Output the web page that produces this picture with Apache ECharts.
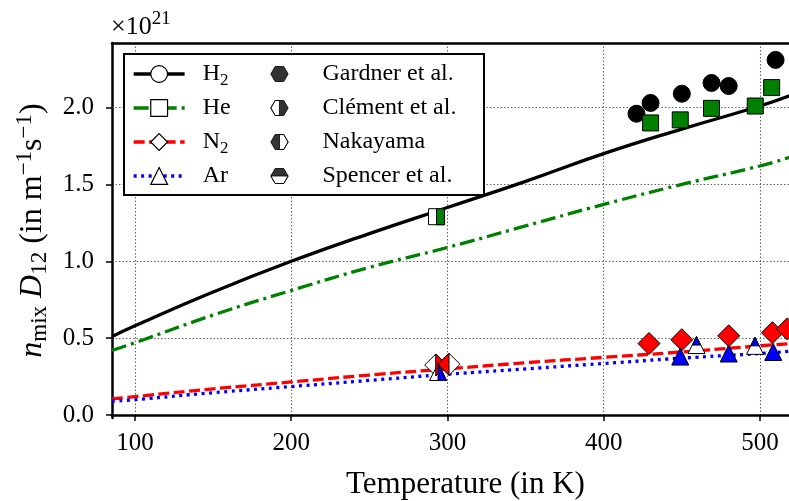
<!DOCTYPE html>
<html><head><meta charset="utf-8">
<script src="https://cdn.jsdelivr.net/npm/echarts@6/dist/echarts.min.js"></script>
<style>html,body{margin:0;padding:0;background:#fff}#c{width:789px;height:501px}</style>
</head><body><div id="c"></div>
<script>
// ---- data (values in units of 1e21 m^-1 s^-1) ----
const curveT = [85.3, 100, 150, 200, 250, 300, 350, 400, 450, 500, 520];
const curveH2 = [0.51, 0.58, 0.80, 1.00, 1.18, 1.35, 1.52, 1.70, 1.86, 2.01, 2.08];
const curveHe = [0.42, 0.47, 0.65, 0.81, 0.96, 1.09, 1.23, 1.37, 1.50, 1.62, 1.68];
const curveN2 = [0.105, 0.12, 0.17, 0.215, 0.26, 0.30, 0.34, 0.375, 0.41, 0.45, 0.465];
const curveAr = [0.09, 0.10, 0.145, 0.185, 0.225, 0.265, 0.30, 0.335, 0.37, 0.40, 0.415];

const gardnerH2T = [421, 430, 450, 469, 480, 510];
const gardnerH2V = [1.96, 2.03, 2.09, 2.16, 2.14, 2.31];
const gardnerHeT = [430, 449, 469, 497, 507.5];
const gardnerHeV = [1.90, 1.92, 1.995, 2.01, 2.13];
const gardnerN2T = [429, 450, 480, 508, 517.5];
const gardnerN2V = [0.465, 0.49, 0.515, 0.535, 0.56];
const gardnerArT = [449, 480, 508.5];
const gardnerArV = [0.38, 0.40, 0.41];

const clementHeT = [293];
const clementHeV = [1.29];
const clementN2T = [292.5];
const clementN2V = [0.325];
const clementArT = [294];
const clementArV = [0.28];

const nakayamaN2T = [301];
const nakayamaN2V = [0.33];

const spencerArT = [459.4, 496.8];
const spencerArV = [0.455, 0.45];

const gasNames = ['H2', 'He', 'N2', 'Ar'];
const sourceNames = ['Gardner et al.', 'Clément et al.', 'Nakayama', 'Spencer et al.'];
const xTicks = [100, 200, 300, 400, 500];
const yTicks = [0, 0.5, 1.0, 1.5, 2.0];

// ---- styles ----
const FONT = 'Liberation Serif';
const gasColor = {H2: '#000000', He: '#008000', N2: '#ff0000', Ar: '#0000ff'};
const gasSymbol = {H2: 'circle', He: 'rect', N2: 'diamond', Ar: 'triangle'};
const gasSize = {H2: [17, 17], He: [16, 16], N2: [22, 22], Ar: [17, 17]};
const gasDash = {H2: 'solid', He: [15, 5, 3, 5], N2: [11, 4.5], Ar: [3, 4.5]};
const A = 'M0 0M100 100';
const halfPath = {
  rect:     {R: A + 'M50 0L100 0L100 100L50 100Z', L: A + 'M0 0L50 0L50 100L0 100Z', T: A + 'M0 0L100 0L100 50L0 50Z'},
  diamond:  {R: A + 'M50 0L100 50L50 100Z', L: A + 'M50 0L0 50L50 100Z', T: A + 'M50 0L100 50L0 50Z'},
  triangle: {R: A + 'M50 0L100 100L50 100Z', L: A + 'M50 0L50 100L0 100Z', T: A + 'M50 0L75 50L25 50Z'},
  circle:   {R: A + 'M50 0A50 50 0 0 1 50 100Z', L: A + 'M50 0A50 50 0 0 0 50 100Z', T: A + 'M0 50A50 50 0 0 1 100 50Z'}
};
const HEX = 'M0 43.3L25 0L75 0L100 43.3L75 86.6L25 86.6Z';
const hexIcon = {
  'Gardner et al.': 'path://' + HEX,
  'Clément et al.': 'path://' + HEX + 'M50 0L25 0L0 43.3L25 86.6L50 86.6Z',
  'Nakayama': 'path://' + HEX + 'M50 0L50 86.6L75 86.6L100 43.3L75 0Z',
  'Spencer et al.': 'path://' + HEX + 'M0 43.3L25 86.6L75 86.6L100 43.3Z'
};

const zip = (a, b) => a.map((v, i) => [v, b[i]]);
const curves = {H2: curveH2, He: curveHe, N2: curveN2, Ar: curveAr};

const series = [];
gasNames.forEach(g => {
  series.push({
    name: g, type: 'line', data: zip(curveT, curves[g]), smooth: true,
    showSymbol: false, symbol: gasSymbol[g], z: 2,
    lineStyle: {color: gasColor[g], width: 3.3, type: gasDash[g]},
    itemStyle: {color: gasColor[g]}
  });
});
function fullMarkers(g, T, V) {
  series.push({type: 'scatter', data: zip(T, V), symbol: gasSymbol[g], symbolSize: gasSize[g], z: 5, clip: false,
    itemStyle: {color: gasColor[g], borderColor: '#000', borderWidth: 1, opacity: 1}});
}
function halfMarkers(g, side, T, V) {
  series.push({type: 'scatter', data: zip(T, V), symbol: gasSymbol[g], symbolSize: gasSize[g], z: 5,
    itemStyle: {color: '#fff', borderColor: '#000', borderWidth: 1, opacity: 1}});
  series.push({type: 'scatter', data: zip(T, V), symbol: 'path://' + halfPath[gasSymbol[g]][side], symbolSize: gasSize[g], z: 6,
    itemStyle: {color: gasColor[g], borderColor: '#000', borderWidth: 1, opacity: 1}});
}
fullMarkers('H2', gardnerH2T, gardnerH2V);
fullMarkers('He', gardnerHeT, gardnerHeV);
fullMarkers('N2', gardnerN2T, gardnerN2V);
fullMarkers('Ar', gardnerArT, gardnerArV);
halfMarkers('He', 'R', clementHeT, clementHeV);
halfMarkers('N2', 'R', clementN2T, clementN2V);
halfMarkers('Ar', 'R', clementArT, clementArV);
halfMarkers('N2', 'L', nakayamaN2T, nakayamaN2V);
halfMarkers('Ar', 'T', spencerArT, spencerArV);
sourceNames.forEach(s => series.push({name: s, type: 'scatter', data: [], symbol: hexIcon[s]}));

const gridLine = {show: true, lineStyle: {color: '#666', width: 1.1, type: [1.5, 2]}};

const option = {
  animation: false,
  backgroundColor: '#fff',
  title: {
    text: '×10{s|21}', left: 111, top: 10, padding: 0,
    textStyle: {fontFamily: FONT, fontSize: 26, fontWeight: 'normal', color: '#000', lineHeight: 34,
      rich: {s: {fontFamily: FONT, fontSize: 19, lineHeight: 16, verticalAlign: 'top', color: '#000'}}}
  },
  grid: {left: 112, top: 43, right: 0, bottom: 83, containLabel: false, outerBoundsMode: 'none'},
  xAxis: [{
    type: 'value', min: 85.3, max: 518.6,
    name: 'Temperature (in K)', nameLocation: 'middle', nameGap: 51,
    nameTextStyle: {fontFamily: FONT, fontSize: 31, color: '#000', padding: [0, 0, 0, 30]},
    axisLine: {show: true, lineStyle: {color: '#000', width: 2.5}},
    axisTick: {show: true, customValues: xTicks, length: 6, lineStyle: {color: '#000', width: 1.5}},
    axisLabel: {customValues: xTicks, margin: 13, fontFamily: FONT, fontSize: 25, color: '#000'},
    splitLine: gridLine
  }, {
    type: 'value', min: 85.3, max: 518.6, position: 'top',
    axisLine: {show: true, lineStyle: {color: '#000', width: 2.5}},
    axisTick: {show: false}, axisLabel: {show: false}, splitLine: {show: false}
  }],
  yAxis: {
    type: 'value', min: -0.0195, max: 2.42,
    name: '{i|n}{sm|mix}{i| D}{sm|12}{r| (in m}{sp|−1}{r|s}{sp|−1}{r|)}',
    nameLocation: 'middle', nameGap: 56, nameRotate: 90,
    nameTextStyle: {fontFamily: FONT, fontSize: 32, color: '#000', lineHeight: 38,
      rich: {
        i: {fontFamily: FONT, fontStyle: 'italic', fontSize: 32, color: '#000'},
        r: {fontFamily: FONT, fontSize: 32, color: '#000'},
        sm: {fontFamily: FONT, fontSize: 23, lineHeight: 16, verticalAlign: 'bottom', color: '#000'},
        sp: {fontFamily: FONT, fontSize: 23, lineHeight: 16, verticalAlign: 'top', color: '#000'}
      }},
    axisLine: {show: true, lineStyle: {color: '#000', width: 2.5}},
    axisTick: {show: true, customValues: yTicks, length: 6, lineStyle: {color: '#000', width: 1.5}},
    axisLabel: {customValues: yTicks, margin: 18, fontFamily: FONT, fontSize: 25, color: '#000',
      formatter: v => v.toFixed(1)},
    splitLine: gridLine
  },
  legend: [
    {
      data: gasNames.map(g => ({name: g,
        itemStyle: {color: '#fff', borderColor: '#000', borderWidth: 1.2},
        lineStyle: {color: gasColor[g], width: 3.3, type: gasDash[g]}})),
      orient: 'vertical', left: 132, top: 59, padding: 0, itemGap: 4,
      itemWidth: 51, itemHeight: 21, selectedMode: false, z: 10,
      formatter: n => n.replace(/(\d)/, '{s|$1}'),
      textStyle: {fontFamily: FONT, fontSize: 24, color: '#000', lineHeight: 30, padding: [0, 0, 0, 13],
        rich: {s: {fontFamily: FONT, fontSize: 17, lineHeight: 14, verticalAlign: 'bottom', color: '#000'}}}
    },
    {
      data: sourceNames.map(s => ({name: s, icon: hexIcon[s],
        itemStyle: {color: '#000', borderColor: '#000', borderWidth: 1}})),
      orient: 'vertical', left: 270.3, top: 59, padding: 0, itemGap: 4,
      itemWidth: 76, itemHeight: 15, selectedMode: false, z: 10,
      textStyle: {fontFamily: FONT, fontSize: 24, color: '#000', lineHeight: 30}
    }
  ],
  graphic: [{
    type: 'rect', shape: {x: 124, y: 54, width: 360, height: 141}, z: 9,
    style: {fill: '#fff', stroke: '#000', lineWidth: 2}
  }],
  series: series
};
const chart = echarts.init(document.getElementById('c'), null, {renderer: 'canvas'});
chart.setOption(option);
</script></body></html>
